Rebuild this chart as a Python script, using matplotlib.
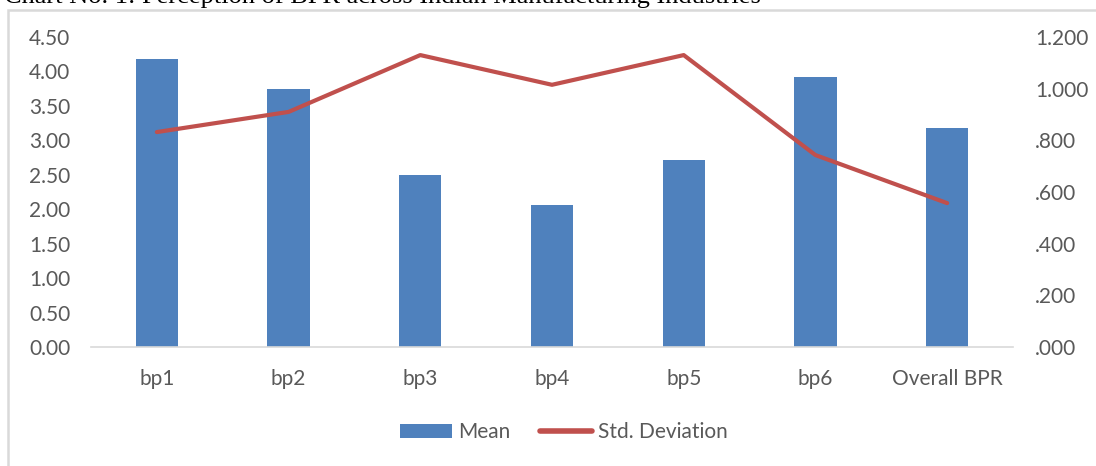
import matplotlib
matplotlib.use("Agg")
import matplotlib.pyplot as plt
from matplotlib.patches import Patch, Rectangle
from matplotlib.lines import Line2D
from matplotlib.ticker import FuncFormatter

# perception of BPR: mean score (bars) and std. deviation (line)
categories = ["bp1", "bp2", "bp3", "bp4", "bp5", "bp6", "Overall BPR"]
mean_values = [4.18, 3.74, 2.50, 2.06, 2.71, 3.92, 3.18]
std_values = [0.832, 0.910, 1.130, 1.015, 1.130, 0.743, 0.557]

TITLE = "Chart No. 1: Perception of BPR across Indian Manufacturing Industries"
BAR_COLOR = "#4f81bd"
LINE_COLOR = "#c0504d"
TEXT_COLOR = "#595959"
BORDER_COLOR = "#d9d9d9"
FONT_SIZE = 15

plt.rcParams["font.family"] = ["Lato", "DejaVu Sans"]

fig = plt.figure(figsize=(10.96, 4.66), dpi=100)

# title sits mostly above the canvas, only its lower part shows
fig.text(0.004, 1 - 3 / 466, TITLE, family="Liberation Serif", fontsize=19,
         ha="left", va="baseline", color="black")

# chart frame
fig.patches.append(Rectangle((8 / 1096, -0.1), 1.2, 1 - 9.5 / 466 + 0.1,
                             transform=fig.transFigure, fill=False,
                             edgecolor=BORDER_COLOR, linewidth=1.8))

ax = fig.add_axes([91 / 1096, 1 - 347 / 466, 922 / 1096, 310 / 466])
ax2 = ax.twinx()

x = list(range(len(categories)))
ax.bar(x, mean_values, width=0.32, color=BAR_COLOR, zorder=2)
ax2.plot(x, std_values, color=LINE_COLOR, linewidth=3, solid_capstyle="round",
         solid_joinstyle="round", zorder=3)

ax.set_xlim(-0.5, len(categories) - 0.5)
ax.set_ylim(0, 4.5)
ax2.set_ylim(0, 1.2)
ax.set_yticks([i * 0.5 for i in range(10)])
ax2.set_yticks([i * 0.2 for i in range(7)])
ax.yaxis.set_major_formatter(FuncFormatter(lambda v, _: f"{v:.2f}"))
ax2.yaxis.set_major_formatter(
    FuncFormatter(lambda v, _: f"{v:.3f}".lstrip("0") if v < 1 else f"{v:.3f}"))
ax.set_xticks(x)
ax.set_xticklabels(categories)

for a in (ax, ax2):
    for side in ("top", "left", "right"):
        a.spines[side].set_visible(False)
    a.spines["bottom"].set_color(BORDER_COLOR)
    a.spines["bottom"].set_linewidth(1.2)
ax2.spines["bottom"].set_visible(False)
ax.tick_params(axis="x", length=0, pad=16, labelsize=FONT_SIZE, labelcolor=TEXT_COLOR)
ax.tick_params(axis="y", length=0, pad=15, labelsize=FONT_SIZE, labelcolor=TEXT_COLOR)
ax2.tick_params(axis="y", length=0, pad=16, labelsize=FONT_SIZE, labelcolor=TEXT_COLOR)

handles = [Patch(facecolor=BAR_COLOR, label="Mean"),
           Line2D([0], [0], color=LINE_COLOR, linewidth=4,
                  solid_capstyle="round", label="Std. Deviation")]
fig.legend(handles=handles, loc="center", bbox_to_anchor=(564 / 1096, 1 - 432 / 466),
           ncol=2, frameon=False, fontsize=FONT_SIZE, labelcolor=TEXT_COLOR,
           handlelength=2.5, handleheight=0.65, handletextpad=0.3,
           columnspacing=1.4)

fig.savefig("out.png", dpi=100)
